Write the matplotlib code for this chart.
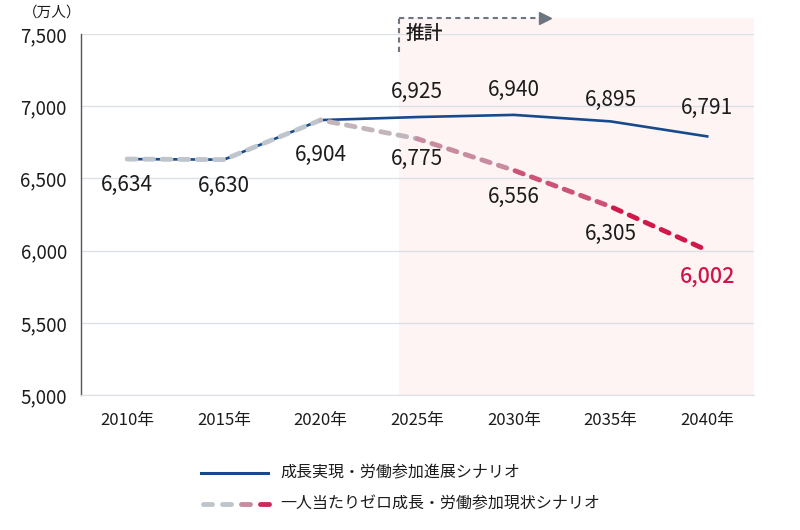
import matplotlib
matplotlib.use("Agg")
import numpy as np
import matplotlib.pyplot as plt
from matplotlib.lines import Line2D
from matplotlib.patches import Rectangle

plt.rcParams['font.family'] = ['Noto Sans CJK JP', 'DejaVu Sans']

# data (万人)
years = [2010, 2015, 2020, 2025, 2030, 2035, 2040]
year_labels = ["2010年", "2015年", "2020年", "2025年", "2030年", "2035年", "2040年"]
growth = [6634, 6630, 6904, 6925, 6940, 6895, 6791]
baseline = [6634, 6630, 6904, 6775, 6556, 6305, 6002]
growth_name = "成長実現・労働参加進展シナリオ"
baseline_name = "一人当たりゼロ成長・労働参加現状シナリオ"

# label offsets in pixels (up +, down -)
growth_label_dy = [-26, -26, -35, 25, 25, 21, 28]
baseline_label_dy = [None, None, None, -20, -27, -27, -26]

BLUE = "#174a8c"
GRAY = "#bfc5cc"
seg_colors = [GRAY, GRAY, "#c3b5bc", "#c78ca0", "#cc5277", "#d0184b"]
CRIMSON = "#d0144a"
TXT = "#1c1c1c"

fig = plt.figure(figsize=(8, 5.3), dpi=100)
ax = fig.add_axes([0.101, 0.2547, 0.841, 0.6811])
ax.set_xlim(2007.6, 2042.4)
ax.set_ylim(5000, 7500)

# forecast shading
shade_start = 2024.07
ax.add_patch(Rectangle((shade_start, 5000), 2042.4 - shade_start, 2611,
                       facecolor="#fef4f4", edgecolor="none", clip_on=False, zorder=0.1))

ax.grid(axis="y", color="#dde1e6", lw=1, zorder=0.3)
ax.set_axisbelow(True)
for s in ["top", "right"]:
    ax.spines[s].set_visible(False)
ax.spines["bottom"].set_color("#dde1e6")
ax.spines["left"].set_color("#555555")
ax.spines["left"].set_linewidth(1)
ax.tick_params(length=0, colors=TXT)
ax.set_yticks([5000, 5500, 6000, 6500, 7000, 7500])
ax.set_yticklabels([f"{v:,}" for v in [5000, 5500, 6000, 6500, 7000, 7500]], fontsize=13.5)
ax.tick_params(axis="y", pad=10)
ax.set_xticks(years)
ax.set_xticklabels(year_labels, fontsize=12)
ax.tick_params(axis="x", pad=12)

# growth scenario line
ax.plot(years, growth, color=BLUE, lw=1.9, zorder=3)

# baseline scenario: dashed with colour shifting segment by segment
lw = 3.5
on, off = 1.8, 1.8
pts = ax.transData.transform(np.column_stack([years, baseline]))
cum = 0.0
for i in range(len(years) - 1):
    ax.plot(years[i:i + 2], baseline[i:i + 2], color=seg_colors[i], lw=lw,
            linestyle=(cum / lw, (on, off)), dash_capstyle="round", zorder=4)
    seg_pt = np.hypot(*(pts[i + 1] - pts[i])) * 72 / fig.dpi
    cum += seg_pt

# value labels
for x, v, dy in zip(years, growth, growth_label_dy):
    ax.annotate(f"{v:,}", (x, v), xytext=(0, dy), textcoords="offset pixels",
                ha="center", va="center", fontsize=15, color=TXT, zorder=5)
for x, v, dy in zip(years, baseline, baseline_label_dy):
    if dy is None:
        continue
    is_last = x == years[-1]
    ax.annotate(f"{v:,}", (x, v), xytext=(0, dy), textcoords="offset pixels",
                ha="center", va="center", fontsize=15.5 if is_last else 15,
                color=CRIMSON if is_last else TXT,
                fontweight="medium" if is_last else "normal", zorder=5)

# 推計 bracket
ax.plot([shade_start, shade_start], [7375, 7611], color="#6d7680", lw=1.5,
        linestyle=(0, (2.5, 2)), clip_on=False, zorder=5)
ax.plot([shade_start, 2031.4], [7611, 7611], color="#6d7680", lw=1.5,
        linestyle=(0, (2.5, 2)), clip_on=False, zorder=5)
ax.plot([2031.6], [7611], marker=">", markersize=8, color="#6d7680",
        clip_on=False, zorder=5)
ax.text(shade_start + 0.35, 7505, "推計", fontsize=13.5, color=TXT,
        ha="left", va="center", fontweight="medium", zorder=5)

fig.text(52 / 800, 1 - 13 / 530, "（万人）", ha="center", va="center",
         fontsize=10.5, color=TXT)

# legend drawn by hand in figure pixels
def fx(px):
    return px / 800


def fy(py):
    return 1 - py / 530


fig.add_artist(Line2D([fx(201), fx(268)], [fy(473), fy(473)], color=BLUE, lw=2.2))
fig.text(fx(280), fy(473), growth_name, ha="left", va="center", fontsize=11.5, color=TXT)
legend_dash_colors = [GRAY, GRAY, "#c78ca0", "#d0285a"]
for k, c in enumerate(legend_dash_colors):
    x0 = 203 + k * 19
    fig.add_artist(Line2D([fx(x0), fx(x0 + 9)], [fy(504), fy(504)], color=c,
                          lw=lw, solid_capstyle="round"))
fig.text(fx(280), fy(504), baseline_name, ha="left", va="center", fontsize=11.5, color=TXT)

fig.savefig("out.png", dpi=100)
